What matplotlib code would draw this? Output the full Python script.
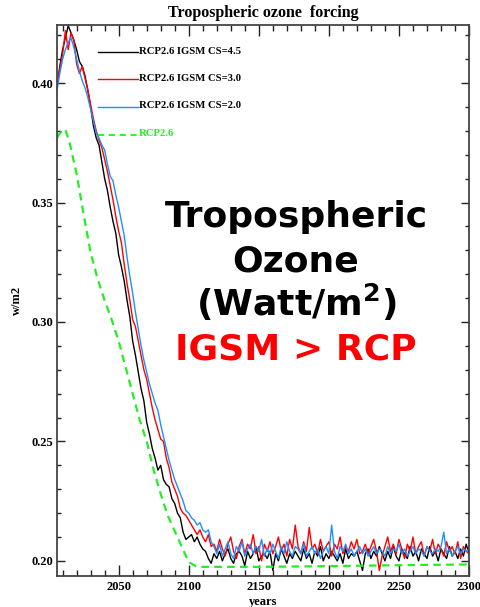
import numpy as np
import matplotlib
matplotlib.use("Agg")
import matplotlib.pyplot as plt
from matplotlib.ticker import MultipleLocator

# ---------------- data ----------------
years = list(range(2006, 2301, 2))

cs45 = [0.398, 0.407, 0.414, 0.419, 0.424, 0.421, 0.418, 0.414, 0.409, 0.407,
        0.403, 0.397, 0.390, 0.382, 0.377, 0.374, 0.367, 0.360, 0.355, 0.348,
        0.342, 0.337, 0.328, 0.323, 0.317, 0.309, 0.302, 0.292, 0.286, 0.279,
        0.272, 0.267, 0.258, 0.253, 0.247, 0.243, 0.238, 0.240, 0.234, 0.232,
        0.231, 0.226, 0.224, 0.220, 0.218, 0.212, 0.209, 0.210, 0.211, 0.208,
        0.210, 0.207, 0.205, 0.204, 0.201, 0.199,
        0.203, 0.201, 0.204, 0.200, 0.203, 0.205, 0.201, 0.199, 0.203, 0.204,
        0.202, 0.198, 0.204, 0.201, 0.203, 0.206, 0.200, 0.202, 0.203, 0.201,
        0.204, 0.196, 0.203, 0.200, 0.205, 0.202, 0.199, 0.203, 0.201, 0.204,
        0.202, 0.200, 0.205, 0.201, 0.203, 0.199, 0.204, 0.202, 0.206, 0.200,
        0.203, 0.201, 0.204, 0.202, 0.200, 0.203, 0.199, 0.205, 0.201, 0.203,
        0.202, 0.204, 0.200, 0.196, 0.203, 0.205, 0.201, 0.204, 0.202, 0.206,
        0.203, 0.200, 0.204, 0.201, 0.206, 0.202, 0.200, 0.205, 0.203, 0.201,
        0.206, 0.202, 0.204, 0.200, 0.205, 0.203, 0.201, 0.206, 0.202, 0.204,
        0.200, 0.205, 0.203, 0.201, 0.206, 0.202, 0.204, 0.201, 0.205, 0.202,
        0.207, 0.203]

cs30 = [0.399, 0.406, 0.412, 0.422, 0.414, 0.421, 0.418, 0.408, 0.404, 0.407,
        0.402, 0.397, 0.391, 0.385, 0.380, 0.376, 0.373, 0.368, 0.363, 0.357,
        0.351, 0.344, 0.338, 0.333, 0.324, 0.316, 0.309, 0.301, 0.298, 0.292,
        0.286, 0.280, 0.276, 0.270, 0.264, 0.259, 0.255, 0.251, 0.250, 0.243,
        0.239, 0.233, 0.230, 0.227, 0.222, 0.220, 0.219, 0.217, 0.215, 0.213,
        0.211, 0.213, 0.210, 0.208, 0.211, 0.206,
        0.207, 0.204, 0.209, 0.205, 0.202, 0.207, 0.210, 0.204, 0.201, 0.206,
        0.209, 0.203, 0.207, 0.205, 0.211, 0.203, 0.206, 0.200, 0.207, 0.204,
        0.208, 0.203, 0.206, 0.210, 0.204, 0.207, 0.202, 0.209, 0.205, 0.215,
        0.206, 0.203, 0.208, 0.204, 0.214, 0.205, 0.207, 0.203, 0.209, 0.204,
        0.206, 0.208, 0.202, 0.207, 0.205, 0.210, 0.203, 0.206, 0.204, 0.208,
        0.205, 0.209, 0.203, 0.204, 0.207, 0.203, 0.206, 0.209, 0.204, 0.196,
        0.202, 0.206, 0.210, 0.204, 0.207, 0.203, 0.209, 0.205, 0.201, 0.207,
        0.204, 0.210, 0.203, 0.206, 0.208, 0.202, 0.206, 0.204, 0.209, 0.203,
        0.207, 0.205, 0.202, 0.208, 0.204, 0.206, 0.203, 0.208, 0.201, 0.206,
        0.204, 0.203]

cs20 = [0.397, 0.404, 0.410, 0.414, 0.417, 0.419, 0.415, 0.410, 0.405, 0.401,
        0.398, 0.394, 0.389, 0.384, 0.379, 0.377, 0.374, 0.372, 0.366, 0.361,
        0.359, 0.353, 0.348, 0.342, 0.336, 0.327, 0.319, 0.312, 0.304, 0.297,
        0.290, 0.284, 0.279, 0.274, 0.270, 0.266, 0.263, 0.257, 0.252, 0.247,
        0.242, 0.238, 0.234, 0.231, 0.228, 0.225, 0.221, 0.220, 0.218, 0.217,
        0.215, 0.216, 0.213, 0.212, 0.213, 0.208,
        0.206, 0.203, 0.207, 0.202, 0.205, 0.208, 0.203, 0.201, 0.206, 0.204,
        0.208, 0.202, 0.205, 0.207, 0.203, 0.206, 0.204, 0.209, 0.202, 0.205,
        0.203, 0.207, 0.204, 0.201, 0.206, 0.203, 0.208, 0.204, 0.202, 0.206,
        0.205, 0.203, 0.207, 0.202, 0.204, 0.206, 0.203, 0.205, 0.201, 0.204,
        0.206, 0.203, 0.215, 0.204, 0.201, 0.206, 0.204, 0.207, 0.203, 0.205,
        0.202, 0.204, 0.206, 0.203, 0.205, 0.202, 0.204, 0.206, 0.203, 0.205,
        0.204, 0.202, 0.206, 0.203, 0.205, 0.204, 0.207, 0.203, 0.205, 0.202,
        0.204, 0.206, 0.203, 0.205, 0.204, 0.202, 0.206, 0.204, 0.203, 0.205,
        0.204, 0.206, 0.212, 0.203, 0.205, 0.202, 0.204, 0.206, 0.203, 0.205,
        0.204, 0.205]

rcp_years = [2006, 2008, 2010, 2012, 2015, 2020, 2025, 2030, 2035, 2040,
             2045, 2050, 2055, 2060, 2065, 2070, 2075, 2080, 2085, 2090,
             2095, 2100, 2105, 2110, 2150, 2200, 2250, 2300]
rcp26 = [0.377, 0.379, 0.380, 0.3805, 0.375, 0.362, 0.345, 0.329, 0.318, 0.309,
         0.301, 0.292, 0.281, 0.270, 0.259, 0.250, 0.238, 0.228, 0.219, 0.2125,
         0.206, 0.1995, 0.1978, 0.1975, 0.1975, 0.1978, 0.1982, 0.1985]

labels = ["RCP2.6 IGSM CS=4.5", "RCP2.6 IGSM CS=3.0",
          "RCP2.6 IGSM CS=2.0", "RCP2.6"]
xticks = [2050, 2100, 2150, 2200, 2250, 2300]
yticks = [0.20, 0.25, 0.30, 0.35, 0.40]

# ---------------- style ----------------
BLACK = "#000000"
RED = "#ff0000"
BLUE = "#1e8fff"
GREEN = "#22ee22"
SERIF = "Liberation Serif"
SANS = "DejaVu Sans"
plt.rcParams["mathtext.fontset"] = "dejavusans"

fig = plt.figure(figsize=(4.81, 6.07), dpi=100)
ax = fig.add_axes([57 / 481, 1 - 575.7 / 607, 412 / 481, 550.7 / 607])

ax.plot(years, cs45, color=BLACK, lw=1.0)
ax.plot(years, cs30, color=RED, lw=1.0)
ax.plot(years, cs20, color=BLUE, lw=1.0)
ax.plot(rcp_years, rcp26, color=GREEN, lw=1.6, linestyle=(0, (3.4, 2.4)))

ax.set_xlim(2006, 2300)
ax.set_ylim(0.1938, 0.4243)
ax.set_xticks(xticks)
ax.set_xticklabels([str(v) for v in xticks])
ax.set_yticks(yticks)
ax.set_yticklabels([f"{v:.2f}" for v in yticks])
ax.xaxis.set_minor_locator(MultipleLocator(10))
ax.yaxis.set_minor_locator(MultipleLocator(0.01))

for sp in ax.spines.values():
    sp.set_color("#444444")
    sp.set_linewidth(1.3)

ax.tick_params(axis="x", which="major", direction="in", length=7.9, width=1.0,
               top=True, bottom=True, color="#222222", pad=4)
ax.tick_params(axis="x", which="minor", direction="in", length=4.1, width=1.0,
               top=True, bottom=True, color="#222222")
ax.tick_params(axis="y", which="major", direction="in", length=5.9, width=1.0,
               left=True, right=True, color="#222222", pad=3)
ax.tick_params(axis="y", which="minor", direction="in", length=3.1, width=1.0,
               left=True, right=True, color="#222222")
for lab in ax.get_xticklabels() + ax.get_yticklabels():
    lab.set_fontfamily(SERIF)
    lab.set_fontweight("bold")
    lab.set_fontsize(9)

ax.set_title("Tropospheric ozone  forcing", fontfamily=SERIF,
             fontweight="bold", fontsize=11.5, pad=6)
ax.set_xlabel("years", fontfamily=SERIF, fontweight="bold", fontsize=9)
ax.xaxis.set_label_coords(0.5, -0.036)
ax.set_ylabel("w/m2", fontfamily=SERIF, fontweight="bold", fontsize=9)
ax.yaxis.set_label_coords(-0.083, 0.5)

# legend drawn IDL-style
colors = [BLACK, RED, BLUE, GREEN]
line_y = [0.9505, 0.9015, 0.8511, 0.7999]
text_y = [0.9482, 0.8992, 0.8493, 0.7984]
for i, (lab, c) in enumerate(zip(labels, colors)):
    if i < 3:
        ax.plot([0.0995, 0.1966], [line_y[i], line_y[i]], color=c, lw=1.0,
                transform=ax.transAxes, clip_on=False)
    else:
        ax.plot([0.0995, 0.1966], [line_y[i], line_y[i]], color=c, lw=1.3,
                linestyle=(0, (3.4, 2.6)), transform=ax.transAxes, clip_on=False)
    ax.text(0.199, text_y[i], lab, transform=ax.transAxes, fontfamily=SERIF,
            fontweight="bold", fontsize=7.7,
            color=(BLACK if i < 3 else GREEN), va="baseline", ha="left")

# big annotation
cx = 296 / 481
for txt, py, col in [("Tropospheric", 227, BLACK), ("Ozone", 271, BLACK),
                     (r"(Watt/m$^\mathbf{2}$)", 316, BLACK),
                     ("IGSM > RCP", 360, RED)]:
    fig.text(cx, 1 - py / 607, txt, fontfamily=SANS, fontweight="bold",
             fontsize=26, color=col, ha="center", va="baseline")

fig.savefig("out.png", dpi=100)
